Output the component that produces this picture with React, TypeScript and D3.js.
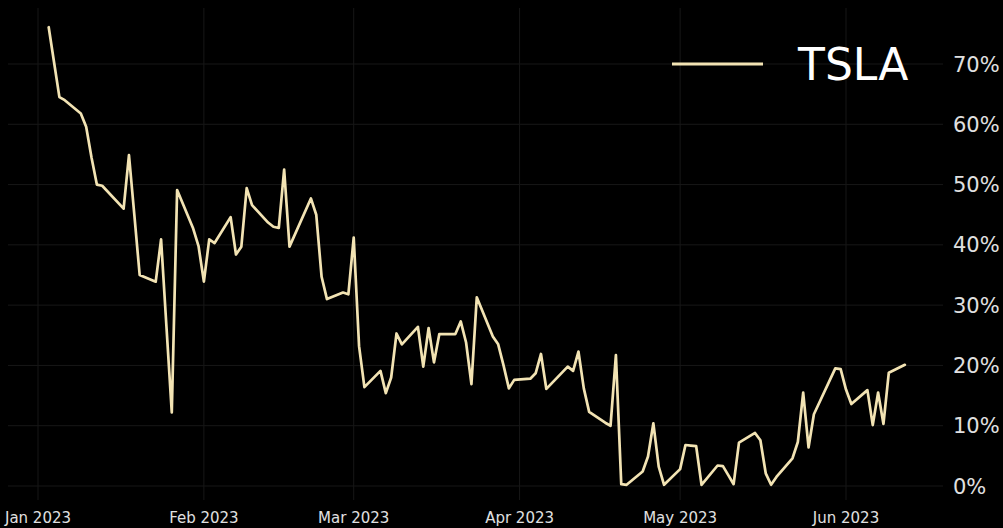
import React from "react";
import * as d3 from "d3";

const tradingDates: string[] = [
  "2023-01-03","2023-01-04","2023-01-05","2023-01-06","2023-01-09","2023-01-10","2023-01-11","2023-01-12","2023-01-13","2023-01-17","2023-01-18","2023-01-19","2023-01-20","2023-01-23","2023-01-24","2023-01-25","2023-01-26","2023-01-27","2023-01-30","2023-01-31",
  "2023-02-01","2023-02-02","2023-02-03","2023-02-06","2023-02-07","2023-02-08","2023-02-09","2023-02-10","2023-02-13","2023-02-14","2023-02-15","2023-02-16","2023-02-17","2023-02-21","2023-02-22","2023-02-23","2023-02-24","2023-02-27","2023-02-28",
  "2023-03-01","2023-03-02","2023-03-03","2023-03-06","2023-03-07","2023-03-08","2023-03-09","2023-03-10","2023-03-13","2023-03-14","2023-03-15","2023-03-16","2023-03-17","2023-03-20","2023-03-21","2023-03-22","2023-03-23","2023-03-24","2023-03-27","2023-03-28","2023-03-29","2023-03-30","2023-03-31",
  "2023-04-03","2023-04-04","2023-04-05","2023-04-06","2023-04-10","2023-04-11","2023-04-12","2023-04-13","2023-04-14","2023-04-17","2023-04-18","2023-04-19","2023-04-20","2023-04-21","2023-04-24","2023-04-25","2023-04-26","2023-04-27","2023-04-28",
  "2023-05-01","2023-05-02","2023-05-03","2023-05-04","2023-05-05","2023-05-08","2023-05-09","2023-05-10","2023-05-11","2023-05-12","2023-05-15","2023-05-16","2023-05-17","2023-05-18","2023-05-19","2023-05-22","2023-05-23","2023-05-24","2023-05-25","2023-05-26","2023-05-30","2023-05-31",
  "2023-06-01","2023-06-02","2023-06-05","2023-06-06","2023-06-07","2023-06-08","2023-06-09","2023-06-12",
];

const tslaValues: number[] = [
  76.1, 70.3, 64.5, 64.0, 61.8, 59.6, 54.5, 50.0, 49.8, 46.0, 54.9, 45.0, 35.0, 33.9, 40.9, 26.5, 12.2, 49.1, 42.7, 39.8,
  33.9, 40.9, 40.3, 44.6, 38.4, 39.7, 49.4, 46.6, 43.7, 43.0, 42.8, 52.5, 39.7, 47.7, 45.0, 34.7, 31.0, 32.1, 31.8,
  41.2, 23.2, 16.4, 19.1, 15.4, 18.0, 25.3, 23.5, 26.4, 19.8, 26.2, 20.5, 25.2, 25.2, 27.3, 23.8, 16.9, 31.3, 24.8, 23.5, 20.0, 16.2, 17.6,
  17.8, 18.7, 21.9, 16.1, 19.8, 19.1, 22.3, 16.2, 12.3, 10.5, 10.0, 21.7, 0.3, 0.2, 2.4, 4.9, 10.4, 3.2, 0.2,
  2.8, 6.8, 6.7, 6.6, 0.2, 3.4, 3.3, 1.8, 0.3, 7.2, 8.8, 7.6, 2.1, 0.2, 1.5, 4.6, 7.3, 15.5, 6.4, 11.9, 19.5, 19.4,
  16.0, 13.6, 15.9, 10.1, 15.5, 10.3, 18.8, 20.1,
];

const seriesName = "TSLA";
const yTicks: number[] = [0, 10, 20, 30, 40, 50, 60, 70];
const monthTicks: string[] = ["2023-01-01", "2023-02-01", "2023-03-01", "2023-04-01", "2023-05-01", "2023-06-01"];

const W = 1003;
const H = 528;
const LINE_COLOR = "#f2e3b3";
const GRID_COLOR = "#171717";
const FONT = "DejaVu Sans, sans-serif";

const parse = d3.utcParse("%Y-%m-%d");

export default function App() {
  const data = tradingDates.map((d, i) => ({ date: parse(d) as Date, value: tslaValues[i] }));
  const ticks = monthTicks.map((d) => parse(d) as Date);

  const x = d3
    .scaleUtc()
    .domain([parse("2023-01-01") as Date, parse("2023-06-01") as Date])
    .range([38, 846]);
  const y = d3.scaleLinear().domain([0, 70]).range([486, 64]);

  const plotLeft = 8;
  const plotRight = 943;
  const plotTop = 8;
  const plotBottom = 500;

  const line = d3
    .line<{ date: Date; value: number }>()
    .x((d) => x(d.date))
    .y((d) => y(d.value));

  const fmt = d3.utcFormat("%b %Y");

  return (
    <svg
      width={W}
      height={H}
      style={{ position: "fixed", left: 0, top: 0, background: "#000", display: "block" }}
    >
      <rect x={0} y={0} width={W} height={H} fill="#000" />
      <g>
        {yTicks.map((t) => (
          <line key={"gy" + t} x1={plotLeft} x2={plotRight} y1={y(t)} y2={y(t)} stroke={GRID_COLOR} strokeWidth={1} />
        ))}
        {ticks.map((t, i) => (
          <line key={"gx" + i} x1={x(t)} x2={x(t)} y1={plotTop} y2={plotBottom} stroke={GRID_COLOR} strokeWidth={1} />
        ))}
      </g>
      <path
        d={line(data) || ""}
        fill="none"
        stroke={LINE_COLOR}
        strokeWidth={2.7}
        strokeLinejoin="round"
        strokeLinecap="round"
      />
      <g fontFamily={FONT} fill="#e0e0e0">
        {yTicks.map((t) => (
          <text key={"ty" + t} x={953} y={y(t)} dy="0.36em" fontSize={21}>
            {t + "%"}
          </text>
        ))}
        {ticks.map((t, i) => (
          <text key={"tx" + i} x={x(t)} y={523} textAnchor="middle" fontSize={15}>
            {fmt(t)}
          </text>
        ))}
      </g>
      <g>
        <line x1={672} x2={763} y1={64} y2={64} stroke={LINE_COLOR} strokeWidth={3} />
        <text x={798} y={80} fontFamily={FONT} fontSize={44} fill="#ffffff">
          {seriesName}
        </text>
      </g>
    </svg>
  );
}
